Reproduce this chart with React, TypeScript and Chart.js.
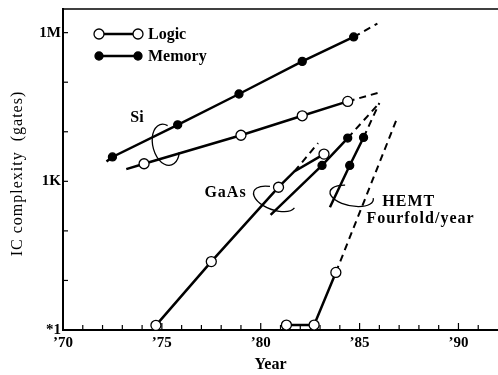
import React, { useEffect, useRef } from "react";
import { Chart, registerables } from "chart.js";
Chart.register(...registerables);

// ---- axes ----
const yearTicks = [1970, 1975, 1980, 1985, 1990];
const yearTickLabels = ["’70", "’75", "’80", "’85", "’90"];
const gateTicks = [1, 10, 100, 1e3, 1e4, 1e5, 1e6];
const gateTickLabels = ["*1", "", "", "1K", "", "", "1M"];

// ---- Si memory ----
const siMemoryYears = [1972.2, 1972.5, 1975.8, 1978.9, 1982.1, 1984.7];
const siMemoryGates = [2500, 3100, 13800, 57800, 263000, 818000];
const siMemoryMeasured = [false, true, true, true, true, true];
const siMemoryProjYears = [1984.7, 1985.9];
const siMemoryProjGates = [818000, 1520000];

// ---- Si logic ----
const siLogicYears = [1973.2, 1974.1, 1979.0, 1982.1, 1984.4];
const siLogicGates = [1760, 2260, 8500, 21000, 41000];
const siLogicMeasured = [false, true, true, true, true];
const siLogicProjYears = [1984.4, 1986.0];
const siLogicProjGates = [41000, 62000];

// ---- GaAs logic ----
const gaasLogicYears = [1974.7, 1977.5, 1980.9, 1981.7, 1983.2];
const gaasLogicGates = [1.24, 24, 760, 1580, 3540];
const gaasLogicMeasured = [true, true, true, false, true];
const gaasLogicProjYears = [1981.7, 1982.9];
const gaasLogicProjGates = [1580, 5900];

// ---- GaAs memory ----
const gaasMemoryYears = [1980.5, 1983.1, 1984.4];
const gaasMemoryGates = [210, 2090, 7460];
const gaasMemoryMeasured = [false, true, true];
const gaasMemoryProjYears = [1984.4, 1986.0];
const gaasMemoryProjGates = [7460, 38000];

// ---- HEMT logic ----
const hemtLogicYears = [1981.3, 1982.7, 1983.8];
const hemtLogicGates = [1.26, 1.26, 14.5];
const hemtLogicMeasured = [true, true, true];
const hemtLogicProjYears = [1983.8, 1986.9];
const hemtLogicProjGates = [14.5, 18900];

// ---- HEMT memory ----
const hemtMemoryYears = [1983.5, 1984.5, 1985.2];
const hemtMemoryGates = [300, 2090, 7670];
const hemtMemoryMeasured = [false, true, true];
const hemtMemoryProjYears = [1985.2, 1986.0];
const hemtMemoryProjGates = [7670, 38000];

// ---- annotation anchors (data coords) ----
const groupLabels = ["Si", "GaAs", "HEMT", "Fourfold/year"];
const groupLabelYears = [1973.4, 1977.15, 1986.15, 1985.35];
const groupLabelGates = [19200, 590, 385, 175];
const loopYears = [1975.2, 1980.7, 1984.6];
const loopGates = [5460, 443, 509];

const FONT = "'Liberation Serif', 'Times New Roman', serif";

function pts(years: number[], gates: number[], measured?: boolean[]) {
  return years.map((x, i) => ({ x, y: gates[i], m: measured ? measured[i] : false }));
}

function solid(kind: "logic" | "memory", data: any[]) {
  const logic = kind === "logic";
  return {
    data,
    borderColor: "#000",
    borderWidth: 2.5,
    tension: 0,
    clip: false,
    pointRadius: (c: any) => (c.raw && c.raw.m ? (logic ? 5 : 4) : 0),
    pointHoverRadius: (c: any) => (c.raw && c.raw.m ? (logic ? 5 : 4) : 0),
    pointBackgroundColor: logic ? "#fff" : "#000",
    pointBorderColor: "#000",
    pointBorderWidth: 1.3,
  };
}

function dashed(data: any[]) {
  return {
    data,
    borderColor: "#000",
    borderWidth: 2,
    borderDash: [7, 5],
    tension: 0,
    clip: false,
    pointRadius: 0,
    pointHoverRadius: 0,
  };
}

const decorPlugin = {
  id: "decor",
  afterDraw(chart: any) {
    const { ctx, chartArea: a, scales } = chart;
    const x = scales.x;
    const y = scales.y;
    ctx.save();
    ctx.strokeStyle = "#000";
    ctx.fillStyle = "#000";
    // top frame line
    ctx.lineWidth = 1.5;
    ctx.beginPath();
    ctx.moveTo(a.left, a.top);
    ctx.lineTo(a.right, a.top);
    ctx.stroke();
    // inward ticks
    ctx.lineWidth = 1.2;
    for (let yr = Math.ceil(x.min) + 1; yr < x.max; yr++) {
      const px = x.getPixelForValue(yr);
      const len = yr % 5 === 0 ? 7 : 5;
      ctx.beginPath();
      ctx.moveTo(px, a.bottom);
      ctx.lineTo(px, a.bottom - len);
      ctx.stroke();
    }
    gateTicks.forEach((v) => {
      if (v === 1) return;
      const py = y.getPixelForValue(v);
      ctx.beginPath();
      ctx.moveTo(a.left, py);
      ctx.lineTo(a.left + 5, py);
      ctx.stroke();
    });

    // loops
    ctx.lineWidth = 1.3;
    const loopShapes = [
      { rx: 13, ry: 21, rot: -0.25, s: -Math.PI / 3, e: Math.PI / 6 },
      { rx: 22, ry: 11, rot: 0.35, s: -Math.PI / 2 - 0.4, e: 0.15 },
      { rx: 22, ry: 10, rot: 0.2, s: -Math.PI / 2 - 0.4, e: -0.2 },
    ];
    loopYears.forEach((yr, i) => {
      const cx = x.getPixelForValue(yr);
      const cy = y.getPixelForValue(loopGates[i]);
      const sh = loopShapes[i];
      ctx.beginPath();
      ctx.ellipse(cx, cy, sh.rx, sh.ry, sh.rot, sh.s, sh.e, true);
      ctx.stroke();
    });

    // group labels
    ctx.textBaseline = "middle";
    ctx.textAlign = "left";
    groupLabels.forEach((t, i) => {
      ctx.save();
      ctx.font = `bold 16px ${FONT}`;
      if (t.length > 2) (ctx as any).letterSpacing = "1px";
      const px = x.getPixelForValue(groupLabelYears[i]);
      const py = y.getPixelForValue(groupLabelGates[i]);
      ctx.fillText(t, px, py);
      ctx.restore();
    });

    // legend
    const lx = a.left + 36;
    const legendRows = [
      { label: "Logic", ly: a.top + 25, fill: "#fff", r: 5 },
      { label: "Memory", ly: a.top + 47, fill: "#000", r: 4 },
    ];
    legendRows.forEach((row) => {
      ctx.lineWidth = 2.5;
      ctx.beginPath();
      ctx.moveTo(lx, row.ly);
      ctx.lineTo(lx + 39, row.ly);
      ctx.stroke();
      ctx.lineWidth = 1.3;
      [lx, lx + 39].forEach((cx) => {
        ctx.beginPath();
        ctx.arc(cx, row.ly, row.r, 0, Math.PI * 2);
        ctx.fillStyle = row.fill;
        ctx.fill();
        ctx.stroke();
      });
      ctx.fillStyle = "#000";
      ctx.font = `bold 16px ${FONT}`;
      ctx.fillText(row.label, lx + 49, row.ly + 1);
    });

    // axis titles
    ctx.font = `bold 16px ${FONT}`;
    ctx.textAlign = "center";
    ctx.fillText("Year", (a.left + a.right) / 2 - 10, a.bottom + 35);
    ctx.save();
    ctx.translate(18, (a.top + a.bottom) / 2 + 4);
    ctx.rotate(-Math.PI / 2);
    (ctx as any).letterSpacing = "1px";
    ctx.font = `16px ${FONT}`;
    ctx.fillText("IC complexity  (gates)", 0, 0);
    ctx.restore();
    ctx.restore();
  },
};

export default function App() {
  const ref = useRef<HTMLCanvasElement>(null);
  useEffect(() => {
    if (!ref.current) return;
    const chart = new Chart(ref.current, {
      type: "line",
      data: {
        datasets: [
          solid("memory", pts(siMemoryYears, siMemoryGates, siMemoryMeasured)),
          solid("logic", pts(siLogicYears, siLogicGates, siLogicMeasured)),
          solid("logic", pts(gaasLogicYears, gaasLogicGates, gaasLogicMeasured)),
          solid("memory", pts(gaasMemoryYears, gaasMemoryGates, gaasMemoryMeasured)),
          solid("logic", pts(hemtLogicYears, hemtLogicGates, hemtLogicMeasured)),
          solid("memory", pts(hemtMemoryYears, hemtMemoryGates, hemtMemoryMeasured)),
          dashed(pts(siMemoryProjYears, siMemoryProjGates)),
          dashed(pts(siLogicProjYears, siLogicProjGates)),
          dashed(pts(gaasLogicProjYears, gaasLogicProjGates)),
          dashed(pts(gaasMemoryProjYears, gaasMemoryProjGates)),
          dashed(pts(hemtLogicProjYears, hemtLogicProjGates)),
          dashed(pts(hemtMemoryProjYears, hemtMemoryProjGates)),
        ] as any,
      },
      options: {
        responsive: false,
        animation: false,
        events: [],
        layout: { autoPadding: false, padding: { top: 9, right: 0, left: 0, bottom: 0 } },
        plugins: { legend: { display: false }, tooltip: { enabled: false } },
        scales: {
          x: {
            type: "linear",
            min: 1970,
            max: 1992,
            grid: { display: false, drawTicks: false },
            border: { display: true, color: "#000", width: 2 },
            afterFit: (s: any) => {
              s.height = 45;
              s.paddingLeft = 0;
              s.paddingRight = 0;
            },
            afterBuildTicks: (s: any) => {
              s.ticks = yearTicks.map((v) => ({ value: v }));
            },
            ticks: {
              autoSkip: false,
              maxRotation: 0,
              padding: 4,
              color: "#000",
              font: { family: FONT, size: 15, weight: "bold" },
              callback: (v: any) => {
                const i = yearTicks.indexOf(Number(v));
                return i >= 0 ? yearTickLabels[i] : "";
              },
            },
          },
          y: {
            type: "logarithmic",
            min: 1,
            max: 3e6,
            grid: { display: false, drawTicks: false },
            border: { display: true, color: "#000", width: 2 },
            afterFit: (s: any) => {
              s.width = 63;
              s.paddingTop = 0;
              s.paddingBottom = 0;
            },
            afterBuildTicks: (s: any) => {
              s.ticks = gateTicks.map((v) => ({ value: v }));
            },
            ticks: {
              autoSkip: false,
              padding: 2,
              color: "#000",
              font: { family: FONT, size: 15, weight: "bold" },
              callback: (v: any) => {
                const i = gateTicks.indexOf(Number(v));
                return i >= 0 ? gateTickLabels[i] : "";
              },
            },
          },
        },
      } as any,
      plugins: [decorPlugin],
    });
    return () => chart.destroy();
  }, []);
  return (
    <div style={{ position: "absolute", left: 0, top: 0, width: 498, height: 375, background: "#fff" }}>
      <canvas ref={ref} width={498} height={375} style={{ display: "block" }} />
    </div>
  );
}
